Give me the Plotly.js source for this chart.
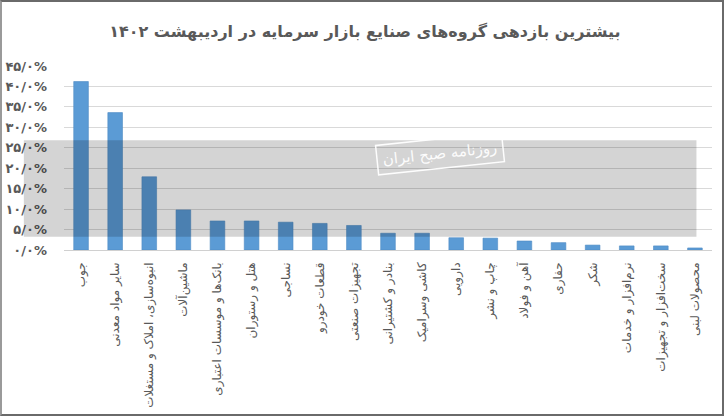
<!DOCTYPE html>
<html>
<head>
<meta charset="utf-8">
<script src="https://cdn.plot.ly/plotly-3.0.1.min.js"></script>
<style>
html,body{margin:0;padding:0;background:#fff;}
#wrap{position:relative;width:724px;height:416px;}
#chart{width:724px;height:416px;}
#frame{position:absolute;left:0;top:0;width:724px;height:416px;box-sizing:border-box;border:2px solid #6a6a6a;border-left-color:#9a9a9a;pointer-events:none;}
</style>
</head>
<body>
<div id="wrap"><div id="chart"></div><div id="frame"></div></div>
<script>
const titleText = 'بیشترین بازدهی گروه‌های صنایع بازار سرمایه در اردیبهشت ۱۴۰۲';
const categories = [
  'جوب',
  'سایر مواد معدنی',
  'انبوه‌سازی، املاک و مستغلات',
  'ماشین‌آلات',
  'بانک‌ها و موسسات اعتباری',
  'هتل و رستوران',
  'نساجی',
  'قطعات خودرو',
  'تجهیزات صنعتی',
  'بنادر و کشتیرانی',
  'کاشی وسرامیک',
  'دارویی',
  'چاپ و نشر',
  'آهن و فولاد',
  'حفاری',
  'شکر',
  'نرم‌افزار و خدمات',
  'سخت‌افزار و تجهیزات',
  'محصولات لبنی'
];
const values = [41.2, 33.6, 17.9, 9.8, 7.1, 7.1, 6.8, 6.5, 6.0, 4.1, 4.1, 3.0, 2.9, 2.2, 1.8, 1.2, 1.0, 1.0, 0.5];
const tickValues = [0, 5, 10, 15, 20, 25, 30, 35, 40, 45];
const tickLabels = ['۰/۰%', '۵/۰%', '۱۰/۰%', '۱۵/۰%', '۲۰/۰%', '۲۵/۰%', '۳۰/۰%', '۳۵/۰%', '۴۰/۰%', '۴۵/۰%'];
const watermarkText = 'روزنامه صبح ایران';

const trace = {
  type: 'bar',
  x: categories,
  y: values,
  marker: {color: '#5b9bd5', line: {color: '#4f8cc4', width: 0.6}},
  hoverinfo: 'x+y'
};

const layout = {
  width: 724,
  height: 416,
  margin: {l: 64, r: 12, t: 66, b: 166},
  paper_bgcolor: '#ffffff',
  plot_bgcolor: '#ffffff',
  showlegend: false,
  bargap: 0.57,
  font: {family: 'DejaVu Sans, sans-serif', color: '#595959'},
  title: {
    text: titleText,
    x: 0.504, xanchor: 'center',
    y: 0.925, yanchor: 'middle',
    font: {family: 'DejaVu Sans, sans-serif', size: 16, color: '#595959', weight: 'bold'}
  },
  xaxis: {
    type: 'category',
    tickangle: -90,
    tickfont: {size: 12, color: '#595959'},
    showgrid: false,
    zeroline: false,
    showline: false,
    ticks: '',
    ticklabelstandoff: 9,
    automargin: false
  },
  yaxis: {
    range: [0, 45],
    tickvals: tickValues,
    ticktext: tickLabels,
    tickfont: {size: 13, color: '#595959', weight: 'bold'},
    showgrid: true,
    gridcolor: '#d9d9d9',
    gridwidth: 1,
    zeroline: true,
    zerolinecolor: '#d0d0d0',
    showline: false,
    ticks: '',
    ticklabelstandoff: 16,
    automargin: false
  },
  shapes: [{
    type: 'rect', xref: 'paper', yref: 'paper',
    x0: -0.062, x1: 0.976, y0: 0.072, y1: 0.597,
    fillcolor: 'rgba(0,0,0,0.17)', line: {width: 0}, layer: 'above'
  }],
  annotations: [{
    xref: 'paper', yref: 'paper',
    x: 0.581, y: 0.525,
    text: watermarkText, showarrow: false,
    textangle: -6,
    font: {size: 15, color: 'rgba(255,255,255,0.95)'},
    bordercolor: 'rgba(255,255,255,0.95)', borderwidth: 1.5, borderpad: 5
  }]
};

Plotly.newPlot('chart', [trace], layout, {displayModeBar: false, staticPlot: true});
</script>
</body>
</html>
